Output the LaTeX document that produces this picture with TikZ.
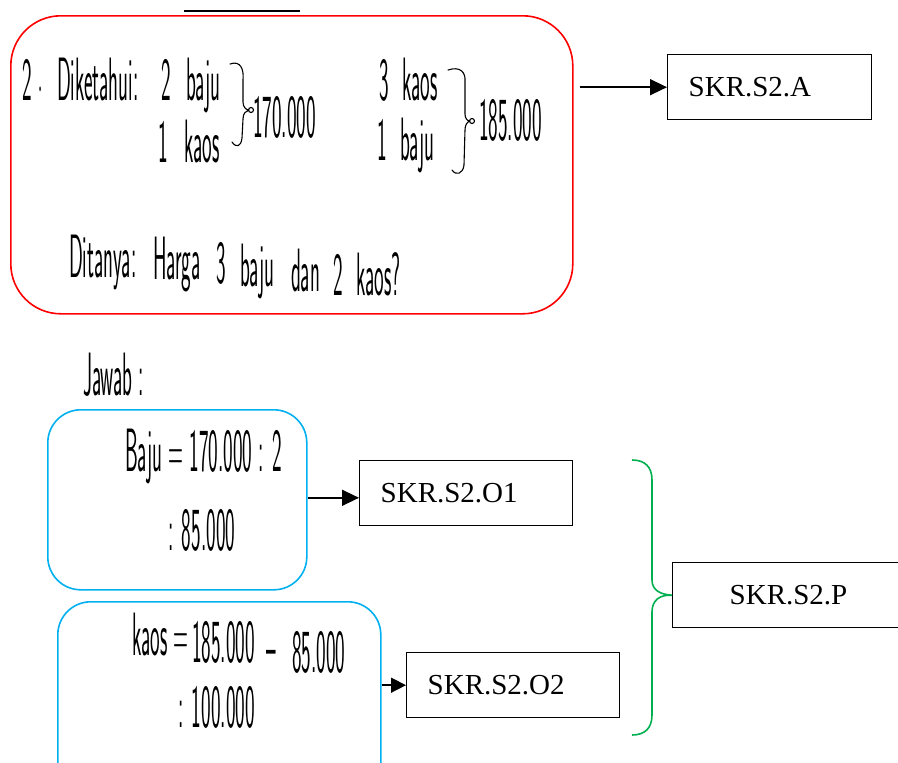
\documentclass[tikz,border=0pt]{standalone}
\usepackage{fontspec}
\newfontfamily\tnr{Liberation Serif}
\usetikzlibrary{arrows.meta}
\definecolor{boxred}{RGB}{255,0,0}
\definecolor{boxblue}{RGB}{0,176,240}
\definecolor{bracegreen}{RGB}{0,176,80}
\begin{document}
\begin{tikzpicture}[x=1pt,y=-1pt,
  hw/.style={font=\sffamily\fontsize{34}{34}\selectfont, xscale=0.6, yscale=1.8,
             inner sep=0pt, anchor=base west},
  pen/.style={line width=1.1pt, line cap=round, line join=round},
  roundbox/.style={draw, line width=1.6pt, anchor=north west, inner sep=0pt},
  skr/.style={draw, line width=1.4pt, anchor=north west, minimum height=65pt,
              inner xsep=21pt, text width=#1, align=left,
              font=\tnr\fontsize{29}{29}\selectfont},
  arrow/.style={line width=1.5pt, -{Triangle[length=17pt,width=16pt]}},
  smallarrow/.style={line width=1.5pt, -{Triangle[length=15pt,width=15pt]}}
]
\clip (0,0) rectangle (898,763);

% scan mark on the top edge
\draw[line width=1.6pt] (184,11) -- (300,11);

% ---------- given / asked ----------
\node[roundbox, draw=boxred, rounded corners=50pt,
      minimum width=562pt, minimum height=298pt] (given) at (10,15) {};

\node[hw] (n2) at (22,100) {2 $\cdot$};
\node[hw] (dik) at (57,100) {Diketahui:};
\node[hw] (b2) at (161,100) {2};
\node[hw] (bj1) at (186,100) {baju};
\node[hw] (k1n) at (158,162) {1};
\node[hw] (ks1) at (184,162) {kaos};
\node[hw] (p1) at (253,137) {170.000};
\draw[pen] (230,64) .. controls (241,60) and (244,70) .. (243,80) -- (243,102)
  .. controls (243,107) and (246,110) .. (249,110)
  .. controls (246,111) and (243,113) .. (243,119) -- (242,138)
  .. controls (241,147) and (236,148) .. (232,142);
\draw[pen] (251,110) circle (2.5pt);

\node[hw] (k3n) at (379,100) {3};
\node[hw] (ks3) at (402,100) {kaos};
\node[hw] (b1n) at (377,160) {1};
\node[hw] (bj3) at (400,160) {baju};
\node[hw] (p2) at (479,140) {185.000};
\draw[pen] (448,70) .. controls (460,66) and (466,72) .. (465,82) -- (465,114)
  .. controls (465,118) and (467,121) .. (470,121)
  .. controls (467,122) and (465,125) .. (465,130) -- (464,165)
  .. controls (463,174) and (456,176) .. (452,170);
\draw[pen] (472,121) circle (2.5pt);

% the question, written slightly downhill
\node[hw] (q1) at (69,277) {Ditanya:};
\node[hw] (q2) at (153,279) {Harga};
\node[hw] (q3) at (216,283) {3};
\node[hw] (q4) at (240,286) {baju};
\node[hw] (q5) at (291,291) {dan};
\node[hw] (q6) at (333,295) {2};
\node[hw] (q7) at (356,295) {kaos?};

\node[skr=162pt] (A) at (667,54) {SKR.S2.A};
\draw[arrow, shorten <=6pt] (A.west -| given.east) -- (A.west);

% ---------- answer ----------
\node[hw] (jwb) at (83,395) {Jawab :};

\node[roundbox, draw=boxblue, rounded corners=33pt,
      minimum width=259pt, minimum height=180pt] (ans1) at (47,409) {};
\node[hw] (l1) at (125,471) {Baju = 170.000 : 2};
\node[hw] (l2) at (168,550) {: 85.000};

\node[roundbox, draw=boxblue, rounded corners=33pt,
      minimum width=323pt, minimum height=200pt] (ans2) at (57,601) {};
\node[hw] (l3a) at (132,655) {kaos =};
\node[hw] (l3b) at (192,662) {185.000};
\node[hw] (l3c) at (266,668) {--};
\node[hw] (l3d) at (292,672) {85.000};
\node[hw] (l4) at (178,727) {: 100.000};

\node[skr=171pt] (O1) at (359,460) {SKR.S2.O1};
\draw[arrow] (ans1.east) ++(0,-2) coordinate (o1s) -- (o1s -| O1.west);

\node[skr=171pt] (O2) at (406,652) {SKR.S2.O2};
\draw[smallarrow] (O2.west -| ans2.east) -- (O2.west);

\node[skr=120pt, inner xsep=57pt] (P) at (672,562) {SKR.S2.P};

% brace gathering both results
\draw[bracegreen, line width=1.6pt]
  (632,460) .. controls (645,460) and (652,467) .. (652,480) -- (652,580)
  .. controls (652,590) and (660,594.5) .. (P.west)
  .. controls (660,594.5) and (652,600) .. (652,612) -- (652,715)
  .. controls (652,728) and (645,735) .. (632,735);
\end{tikzpicture}
\end{document}
